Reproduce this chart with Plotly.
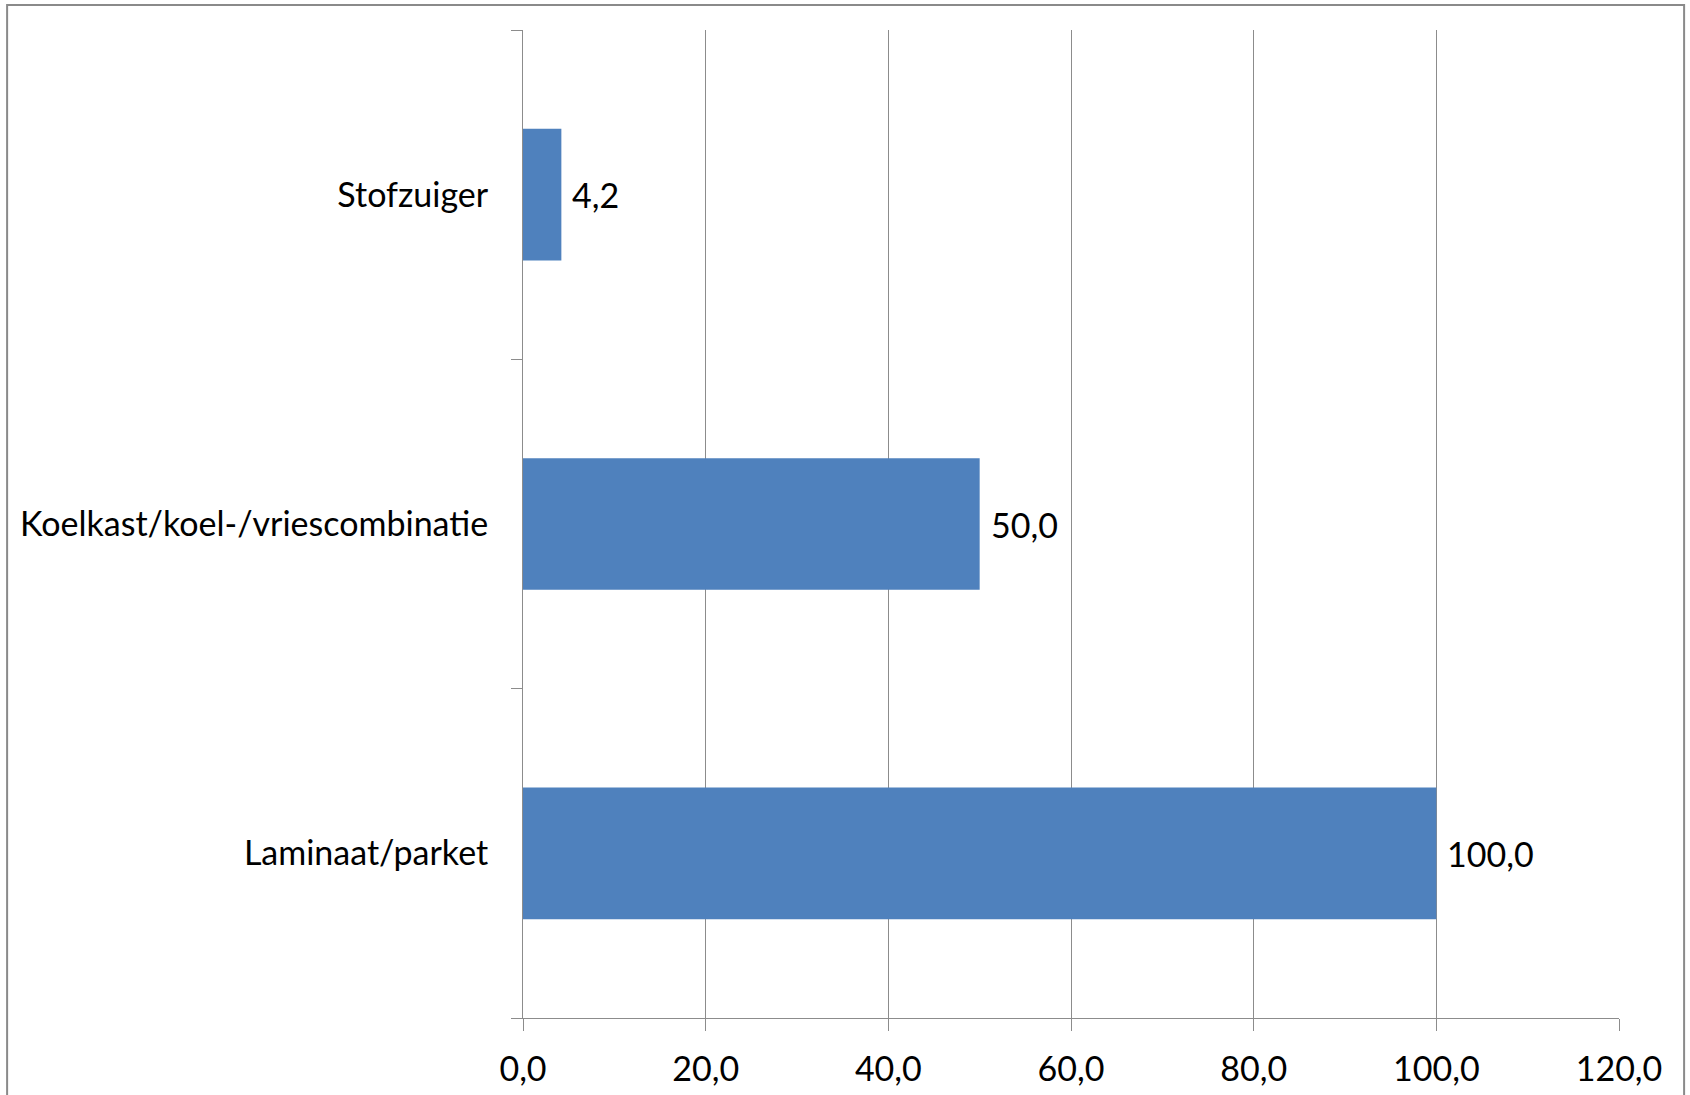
import plotly.graph_objects as go

# Categories from bottom to top, and their values
categories = ["Laminaat/parket", "Koelkast/koel-/vriescombinatie", "Stofzuiger"]
values = [100.0, 50.0, 4.2]
x_ticks = [0, 20, 40, 60, 80, 100, 120]
x_tick_labels = ["0,0", "20,0", "40,0", "60,0", "80,0", "100,0", "120,0"]

BAR_COLOR = "#4F81BD"
GRID_COLOR = "#8C8C8C"
FONT = "Lato"
FONT_SIZE = 34


def fmt(v):
    return f"{v:.1f}".replace(".", ",")


fig = go.Figure(
    go.Bar(
        x=values,
        y=categories,
        orientation="h",
        marker=dict(color=BAR_COLOR, line=dict(width=0)),
        width=0.4,
        hoverinfo="skip",
    )
)

# Value labels just to the right of each bar end
for cat, v in zip(categories, values):
    fig.add_annotation(
        x=v, y=cat, xref="x", yref="y",
        text=fmt(v), showarrow=False,
        xanchor="left", yanchor="middle", xshift=9,
        font=dict(family=FONT, size=FONT_SIZE, color="#000000"),
    )

# Thin frame around the whole chart area
fig.add_shape(
    type="rect", xref="paper", yref="paper",
    x0=-0.4707, x1=1.0594, y0=-0.2, y1=1.0253,
    line=dict(color="#8A8A8A", width=2), layer="below",
)

fig.update_layout(
    width=1690, height=1095,
    margin=dict(l=523, r=71, t=30, b=77, autoexpand=False),
    paper_bgcolor="white", plot_bgcolor="white",
    showlegend=False,
    font=dict(family=FONT, size=FONT_SIZE, color="#000000"),
    xaxis=dict(
        range=[0, 120],
        tickvals=x_ticks, ticktext=x_tick_labels,
        showgrid=True, gridcolor=GRID_COLOR, gridwidth=1,
        showline=True, linecolor=GRID_COLOR, linewidth=1,
        ticks="outside", ticklen=12, tickcolor=GRID_COLOR, tickwidth=1,
        ticklabelstandoff=9,
        zeroline=False, fixedrange=True, automargin=False,
    ),
    yaxis=dict(
        type="category",
        categoryorder="array", categoryarray=categories,
        range=[-0.5, 2.5],
        showgrid=False,
        showline=True, linecolor=GRID_COLOR, linewidth=1,
        ticks="outside", tickson="boundaries", ticklen=11,
        tickcolor=GRID_COLOR, tickwidth=1,
        ticklabelstandoff=27,
        zeroline=False, fixedrange=True, automargin=False,
    ),
)

fig.write_html("out.html")
